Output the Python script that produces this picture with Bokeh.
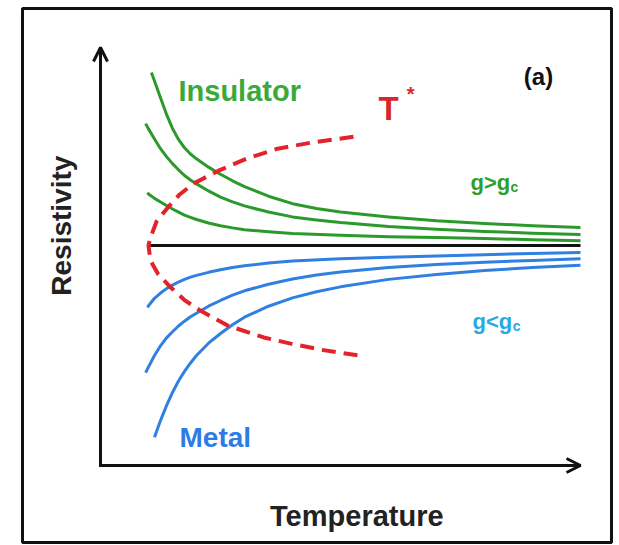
from bokeh.plotting import figure
from bokeh.models import Range1d, Arrow, OpenHead, Label
from bokeh.embed import file_html
from bokeh.resources import INLINE

# Schematic resistivity vs temperature (arbitrary units)
# Insulating side (g > gc): resistivity rises as T -> 0
ins1_T = [1.06, 1.125, 1.25, 1.375, 1.5, 1.625, 1.75, 1.875, 2.0, 2.25, 2.5, 2.75, 3.0, 3.5, 4.0,
          4.5, 5.0, 6.0, 7.0, 8.0, 9.0, 10.0]
ins1_R = [8.93, 8.74, 8.36, 7.98, 7.66, 7.41, 7.22, 7.08, 6.97, 6.78, 6.62, 6.47, 6.34, 6.12, 5.95,
          5.84, 5.76, 5.65, 5.56, 5.50, 5.45, 5.41]
ins2_T = [0.94, 1.0, 1.125, 1.25, 1.375, 1.5, 1.625, 1.75, 1.875, 2.0, 2.25, 2.5, 2.75, 3.0, 3.5,
          4.0, 4.5, 5.0, 6.0, 7.0, 8.0, 9.0, 10.0]
ins2_R = [7.77, 7.65, 7.42, 7.20, 7.02, 6.86, 6.72, 6.59, 6.49, 6.40, 6.24, 6.10, 5.99, 5.90, 5.76,
          5.65, 5.58, 5.52, 5.43, 5.37, 5.32, 5.28, 5.25]
ins3_T = [0.98, 1.0, 1.125, 1.25, 1.375, 1.5, 1.625, 1.75, 1.875, 2.0, 2.25, 2.5, 2.75, 3.0, 3.5,
          4.0, 5.0, 6.0, 7.0, 8.0, 9.0, 10.0]
ins3_R = [6.20, 6.17, 6.07, 5.99, 5.91, 5.83, 5.76, 5.69, 5.64, 5.59, 5.51, 5.45, 5.40, 5.36, 5.31,
          5.27, 5.23, 5.20, 5.18, 5.16, 5.13, 5.11]

# Critical separatrix
crit_T = [1.0, 10.0]
crit_R = [5.0, 5.0]

# Metallic side (g < gc): resistivity drops as T -> 0
met1_T = [0.98, 1.0, 1.125, 1.25, 1.375, 1.5, 1.625, 1.75, 1.875, 2.0, 2.25, 2.5, 2.75, 3.0, 3.5,
          4.0, 5.0, 6.0, 7.0, 8.0, 9.0, 10.0]
met1_R = [3.59, 3.63, 3.80, 3.92, 4.02, 4.10, 4.17, 4.23, 4.28, 4.32, 4.39, 4.45, 4.50, 4.54, 4.60,
          4.65, 4.70, 4.73, 4.76, 4.79, 4.82, 4.84]
met2_T = [0.94, 1.0, 1.125, 1.25, 1.375, 1.5, 1.625, 1.75, 1.875, 2.0, 2.25, 2.5, 2.75, 3.0, 3.5,
          4.0, 4.5, 5.0, 6.0, 7.0, 8.0, 9.0, 10.0]
met2_R = [2.11, 2.24, 2.50, 2.72, 2.90, 3.04, 3.17, 3.28, 3.38, 3.46, 3.62, 3.75, 3.87, 3.97, 4.12,
          4.24, 4.33, 4.40, 4.50, 4.57, 4.62, 4.66, 4.70]
met3_T = [1.125, 1.25, 1.375, 1.5, 1.625, 1.75, 1.875, 2.0, 2.25, 2.5, 2.75, 3.0, 3.5, 4.0, 4.5,
          5.0, 6.0, 7.0, 8.0, 9.0, 10.0]
met3_R = [0.64, 1.02, 1.36, 1.66, 1.92, 2.14, 2.33, 2.50, 2.78, 3.00, 3.20, 3.37, 3.62, 3.81, 3.95,
          4.06, 4.23, 4.34, 4.43, 4.50, 4.55]

# Crossover scale T*
tstar_T = [5.27, 4.40, 3.69, 3.06, 2.46, 1.94, 1.65, 1.40, 1.17, 1.04, 1.00,
           1.04, 1.20, 1.46, 1.75, 2.08, 2.65, 3.40, 3.96, 4.60, 5.38]
tstar_R = [7.47, 7.34, 7.20, 6.98, 6.70, 6.41, 6.16, 5.86, 5.55, 5.18, 5.00,
           4.66, 4.35, 4.05, 3.76, 3.52, 3.18, 2.91, 2.77, 2.63, 2.50]

GREEN = "#2b9a2b"
BLUE = "#2f80e0"
RED = "#e42229"
INK = "#111111"
FONT = "Liberation Sans"

p = figure(width=619, height=545, output_backend="svg", toolbar_location=None,
           x_range=Range1d(-1.625, 10.646), y_range=Range1d(-1.75, 10.386),
           x_axis_type=None, y_axis_type=None,
           min_border_left=22, min_border_right=8, min_border_top=8, min_border_bottom=3)
p.grid.visible = False
p.outline_line_color = INK
p.outline_line_width = 3
p.background_fill_color = "white"
p.border_fill_color = "white"

# Axes drawn as arrows
p.line([0, 0, 10], [9.5, 0, 0], line_color=INK, line_width=3, line_join="miter")
p.add_layout(Arrow(end=OpenHead(size=14, line_width=3, line_color=INK),
                   x_start=0, y_start=0, x_end=0, y_end=9.5,
                   line_width=3, line_color=INK))
p.add_layout(Arrow(end=OpenHead(size=14, line_width=3, line_color=INK),
                   x_start=0, y_start=0, x_end=10, y_end=0,
                   line_width=3, line_color=INK))

for xs, ys in [(ins1_T, ins1_R), (ins2_T, ins2_R), (ins3_T, ins3_R)]:
    p.line(xs, ys, line_color=GREEN, line_width=3, line_join="round")
for xs, ys in [(met1_T, met1_R), (met2_T, met2_R), (met3_T, met3_R)]:
    p.line(xs, ys, line_color=BLUE, line_width=3, line_join="round")
p.line(crit_T, crit_R, line_color=INK, line_width=3)
p.line(tstar_T, tstar_R, line_color=RED, line_width=4, line_dash="14 8")


def label(x, y, text, size, color, align="left", angle=0.0):
    p.add_layout(Label(x=x, y=y, text=text, text_font=FONT, text_font_style="bold",
                       text_font_size=size, text_color=color, text_align=align,
                       text_baseline="middle", angle=angle))


label(1.625, 8.52, "Insulator", "29px", "#3aa93a")
label(1.646, 0.64, "Metal", "28px", "#2d7be5")
label(5.79, 8.11, "T", "33px", "#d8262e")
label(6.38, 8.45, "*", "20px", "#d8262e")
label(9.125, 8.84, "(a)", "24px", INK, align="center")
label(7.71, 6.43, "g>g", "22px", "#2ca02c")
label(8.54, 6.34, "c", "14px", "#2ca02c")
label(7.75, 3.27, "g<g", "22px", "#27a9e1")
label(8.59, 3.18, "c", "14px", "#27a9e1")
label(5.34, -1.14, "Temperature", "29px", "#222222", align="center")
label(-0.81, 5.45, "Resistivity", "28px", "#222222", align="center", angle=1.5707963)

open("out.html", "w").write(file_html(p, INLINE))
